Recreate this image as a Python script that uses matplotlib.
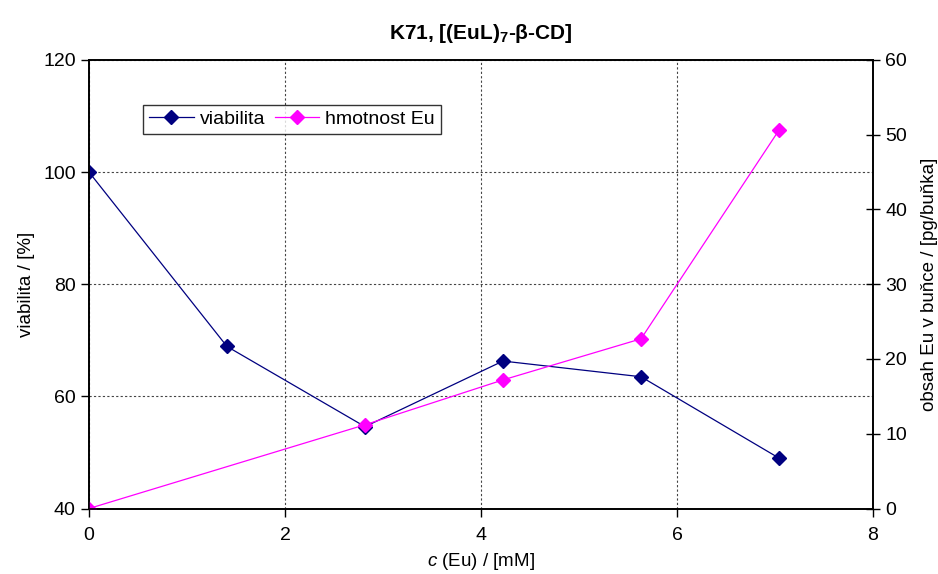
import matplotlib
matplotlib.use('Agg')
import matplotlib.pyplot as plt

plt.rcParams['font.family'] = ['Liberation Sans', 'DejaVu Sans']
plt.rcParams['mathtext.fontset'] = 'custom'
plt.rcParams['mathtext.rm'] = 'Liberation Sans'
plt.rcParams['mathtext.it'] = 'Liberation Sans:italic'
plt.rcParams['mathtext.bf'] = 'Liberation Sans:bold'

# concentration c(Eu) in mM
conc = [0, 1.408, 2.816, 4.224, 5.633, 7.04]
viabilita = [100, 68.9, 54.6, 66.3, 63.5, 49.0]

# Eu content per cell (no measurement at the second concentration)
conc_eu = [0, 2.816, 4.224, 5.633, 7.04]
hmotnost_eu = [0, 11.2, 17.2, 22.7, 50.6]

navy = '#000080'
magenta = '#FF00FF'

fig = plt.figure(figsize=(9.38, 5.74), dpi=100)
ax = fig.add_axes([0.0949, 0.1141, 0.8358, 0.7814])
ax2 = ax.twinx()

l1, = ax.plot(conc, viabilita, color=navy, lw=0.9, marker='D', ms=7,
              mec=navy, mfc=navy, label='viabilita')
l2, = ax2.plot(conc_eu, hmotnost_eu, color=magenta, lw=0.9, marker='D', ms=7,
               mec=magenta, mfc=magenta, label='hmotnost Eu')

ax.set_xlim(0, 8)
ax.set_ylim(40, 120)
ax2.set_ylim(0, 60)
ax.set_xticks([0, 2, 4, 6, 8])
ax.set_yticks([40, 60, 80, 100, 120])
ax2.set_yticks(range(0, 61, 10))

ax.grid(True, color='#444444', ls=(0, (2, 2)), lw=0.8)
ax.tick_params(axis='both', labelsize=14, direction='out', length=6,
               width=1, colors='black')
ax.tick_params(axis='x', pad=7)
ax2.tick_params(axis='y', labelsize=14, direction='inout', length=10,
                width=1, pad=4)
for a in (ax, ax2):
    for s in a.spines.values():
        s.set_linewidth(1.2)

ax.set_ylabel('viabilita / [%]', fontsize=13.5, labelpad=6)
ax2.set_ylabel('obsah Eu v buňce / [pg/buňka]', fontsize=13.5, labelpad=10)
ax.set_xlabel(r'$c$ (Eu) / [mM]', fontsize=13.5, labelpad=5)
ax.set_title(r'K71, [(EuL)$_\mathbf{7}$-β-CD]', fontsize=15,
             fontweight='bold', pad=15)

# legend lives on the twin axes so it sits above both lines
leg = ax2.legend(handles=[l1, l2], loc='upper left',
                 bbox_to_anchor=(0.069, 0.9), ncol=2, fontsize=14,
                 frameon=True, fancybox=False, edgecolor='black',
                 borderpad=0.3, handlelength=2.3, handletextpad=0.3,
                 columnspacing=0.5, borderaxespad=0)
leg.get_frame().set_linewidth(1.0)

fig.savefig('out.png', dpi=100)
